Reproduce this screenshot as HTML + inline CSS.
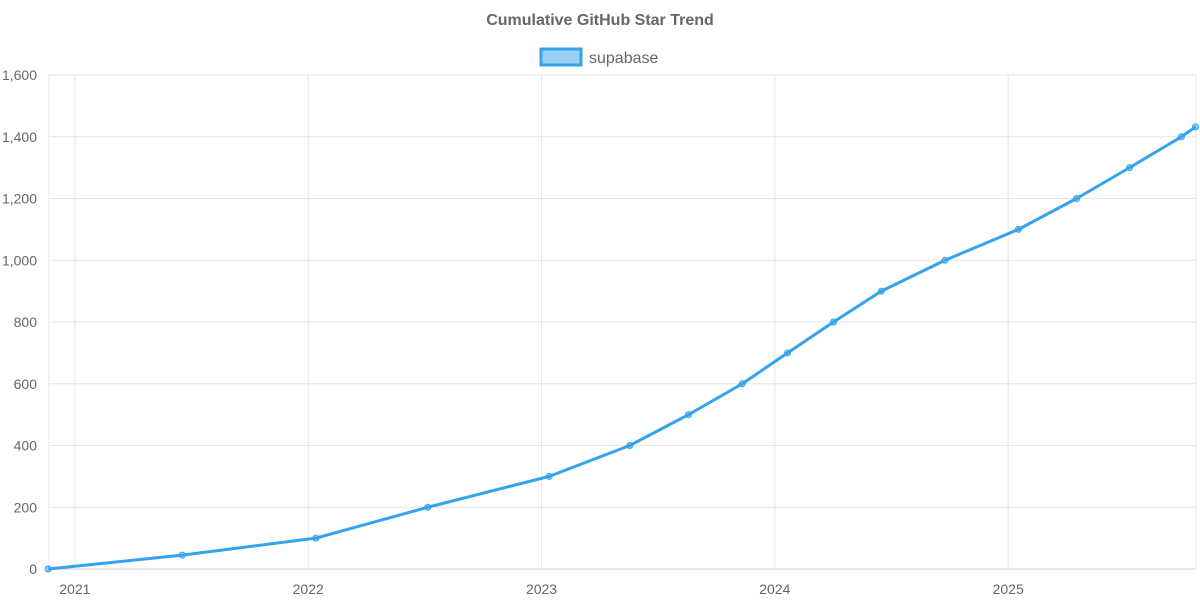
<!DOCTYPE html>
<html><head><meta charset="utf-8"><style>
body{margin:0;background:#fff;font-family:"Liberation Sans",sans-serif;}
svg text{font-family:"Liberation Sans",sans-serif;}
</style></head><body>
<svg id="chart" width="1200" height="600">
<text x="600" y="25" text-anchor="middle" font-size="16" font-weight="bold" fill="#666">Cumulative GitHub Star Trend</text>
<g>
<rect x="541" y="49" width="40" height="16" fill="rgba(54,162,235,0.5)" stroke="#36a2eb" stroke-width="3"/>
<text x="589" y="63" font-size="16" fill="#666">supabase</text>
</g>
<g id="grid"></g><g id="axes"></g><g id="series"></g>
</svg>
<script>
const dates = ["2020-11-20","2021-06-18","2022-01-13","2022-07-07","2023-01-13","2023-05-19","2023-08-19","2023-11-11","2024-01-21","2024-04-02","2024-06-16","2024-09-24","2025-01-17","2025-04-18","2025-07-10","2025-09-29","2025-10-21"];
const stars = [0,45,100,200,300,400,500,600,700,800,900,1000,1100,1200,1300,1400,1432];
const yTicks = [0,200,400,600,800,1000,1200,1400,1600];
const xTickYears = [2021,2022,2023,2024,2025];
const NS="http://www.w3.org/2000/svg";
const L=49,R=1196,T=75,B=569;
const toYear=s=>{const d=new Date(s+"T00:00:00Z");const y=d.getUTCFullYear();const a=Date.UTC(y,0,1),b=Date.UTC(y+1,0,1);return y+(d-a)/(b-a);};
const x0=2020.889,x1=2025.805;
const xs=v=>L+(v-x0)/(x1-x0)*(R-L);
const ys=v=>B-v/1600*(B-T);
function el(t,a,p){const e=document.createElementNS(NS,t);for(const k in a)e.setAttribute(k,a[k]);p.appendChild(e);return e;}
const grid=document.getElementById('grid'),axes=document.getElementById('axes'),ser=document.getElementById('series');
yTicks.forEach(v=>{
 const l=el('line',{x1:L,x2:R,y1:ys(v),y2:ys(v),stroke:v===0?'#ccc':'#e5e5e5'},grid);
 
 
 const t=el('text',{x:L-12,y:ys(v)+5,'text-anchor':'end','font-size':14,fill:'#666'},axes);
 t.textContent=v.toLocaleString('en-US');
 
 
});
el('line',{x1:L,x2:L,y1:T,y2:B,stroke:'#e5e5e5'},grid);
xTickYears.forEach(yr=>{
 const x=xs(yr);
 const l=el('line',{x1:x,x2:x,y1:T,y2:B,stroke:'#e5e5e5'},grid);
 
 
 const t=el('text',{x:x,y:594,'text-anchor':'middle','font-size':14,fill:'#666'},axes);
 t.textContent=yr;
 
 
});
el('line',{x1:R,x2:R,y1:T,y2:B,stroke:'#e5e5e5'},grid);
const pts=dates.map((d,i)=>[xs(toYear(d)),ys(stars[i])]);
const path=el('polyline',{points:pts.map(p=>p.join(',')).join(' '),fill:'none',stroke:'#36a2eb','stroke-width':3,'stroke-linejoin':'round'},ser);


pts.forEach(p=>{
 const c=el('circle',{cx:p[0],cy:p[1],r:3,fill:'rgba(54,162,235,0.5)',stroke:'#36a2eb','stroke-width':1},ser);
 
 
});
</script>
</body></html>
